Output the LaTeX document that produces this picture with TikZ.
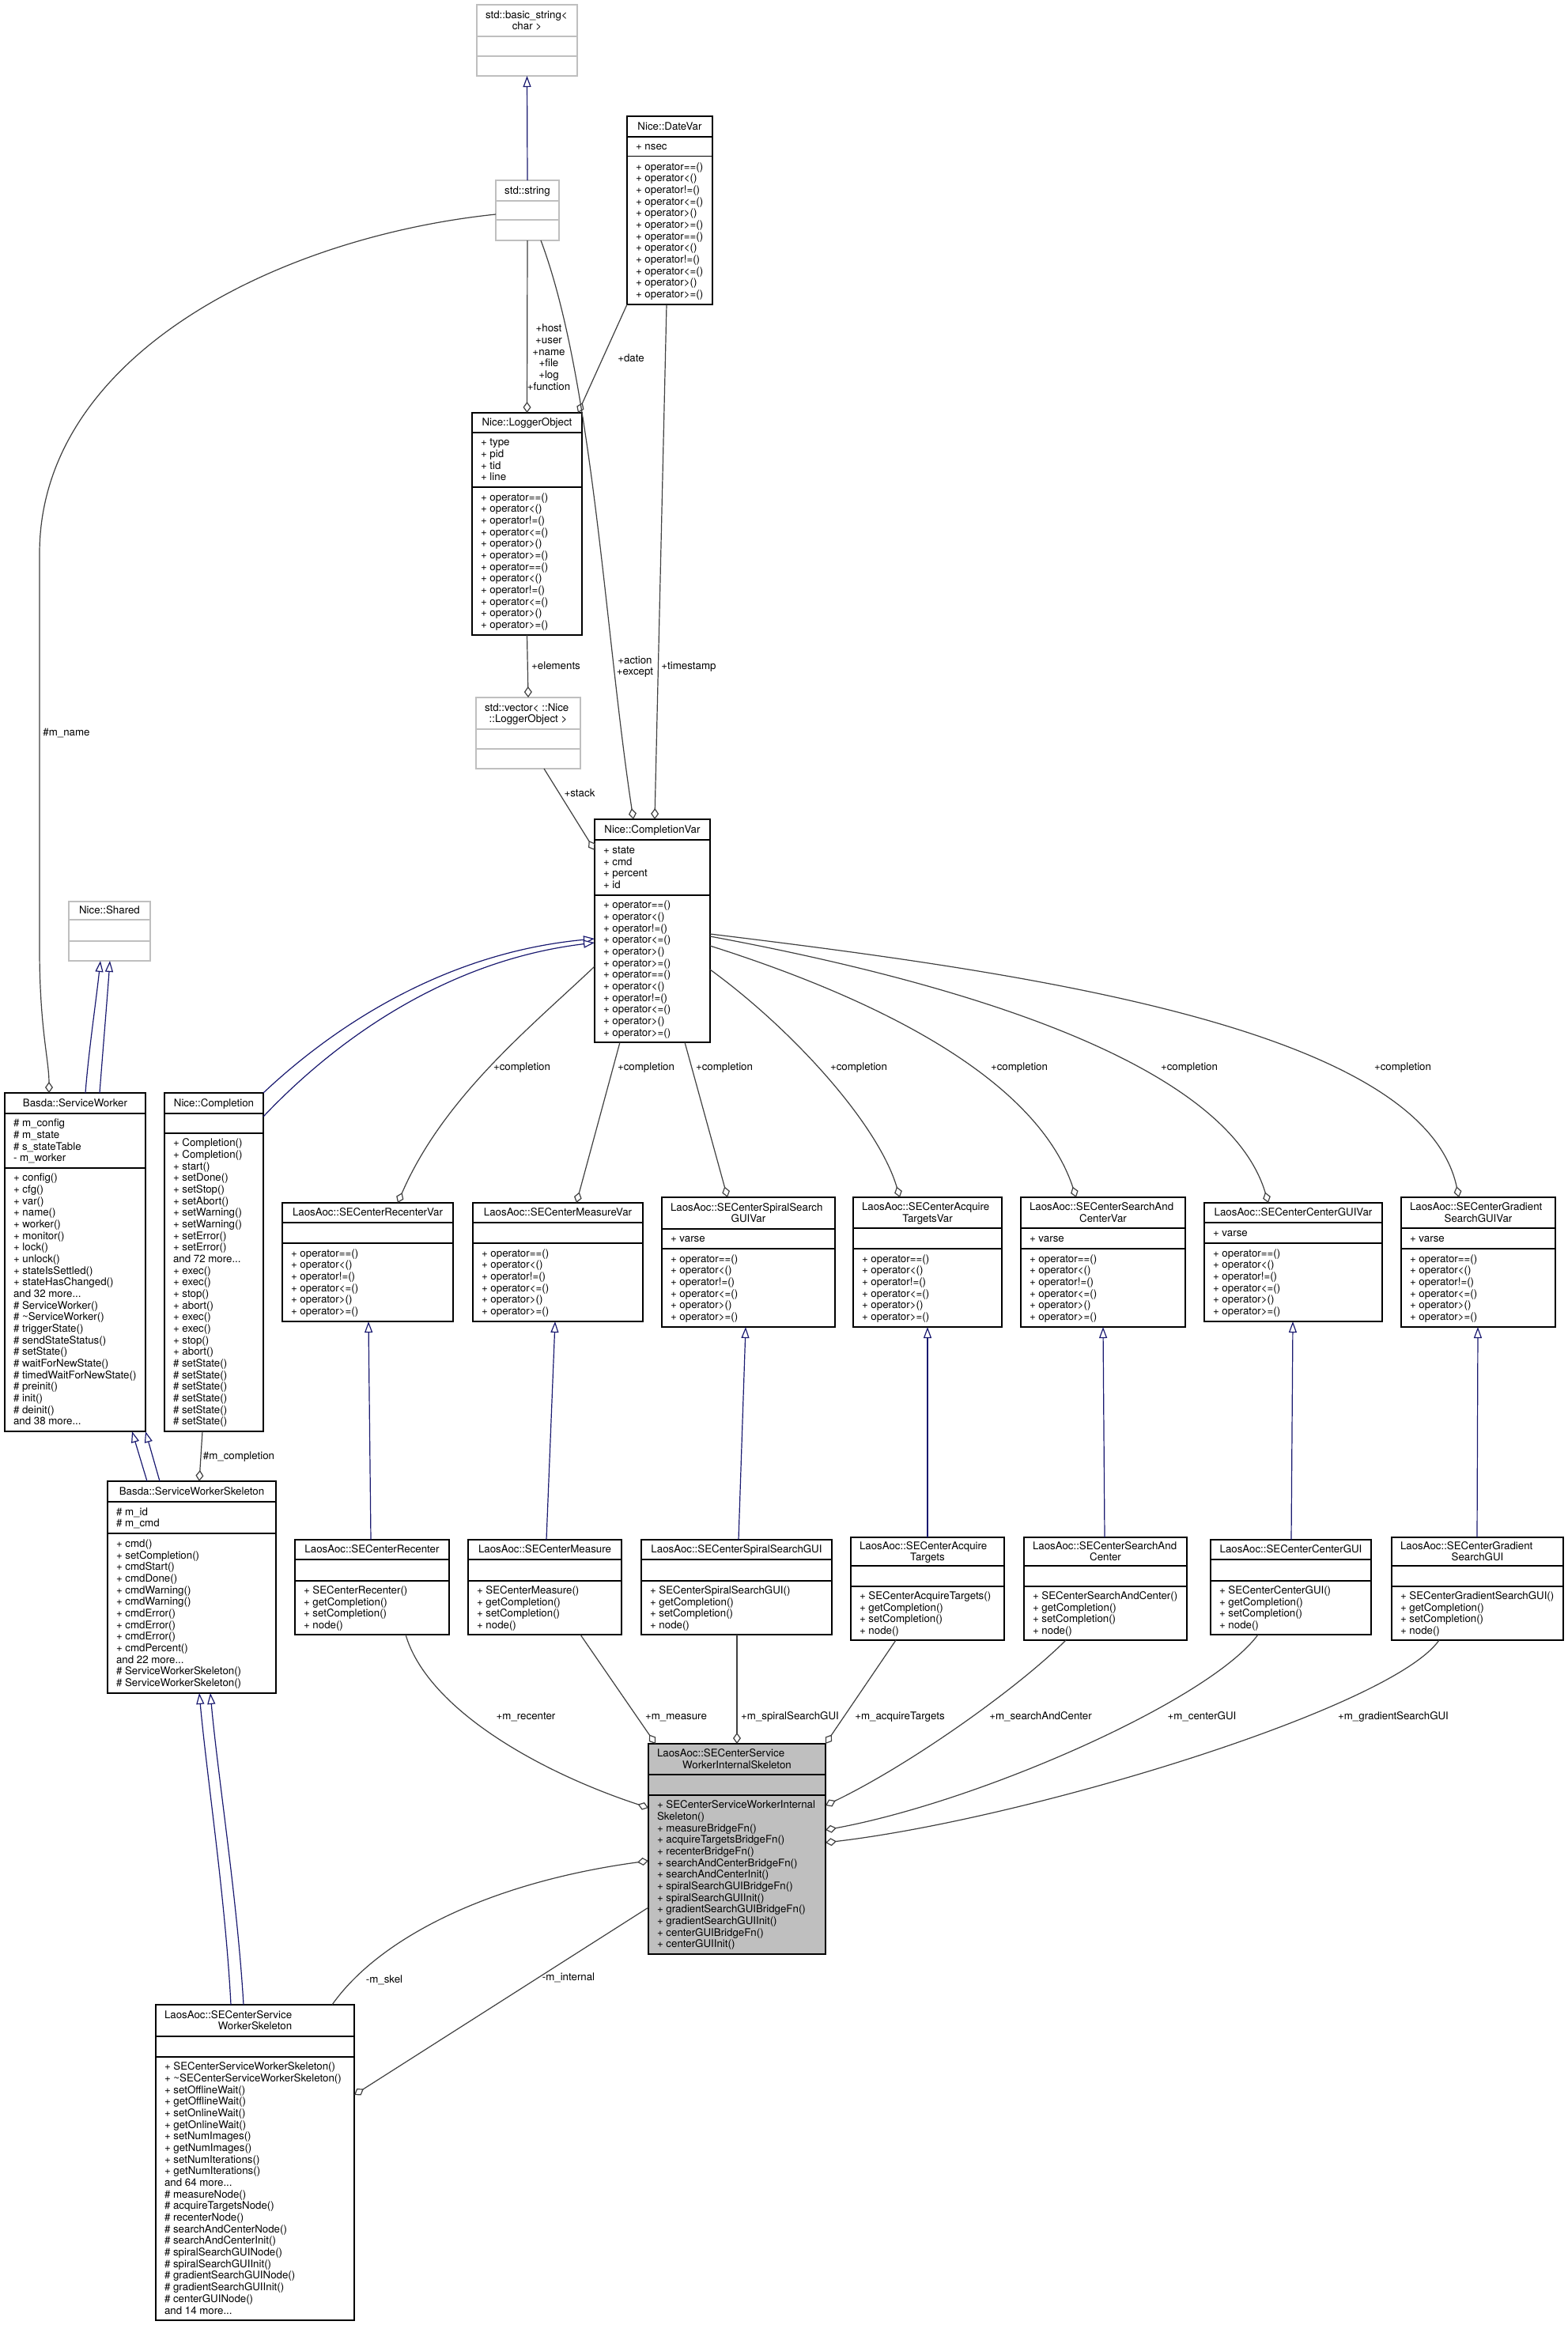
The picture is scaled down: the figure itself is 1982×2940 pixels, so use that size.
\documentclass[tikz,border=0pt]{standalone}
\usepackage{fontspec}
\setmainfont{TeX Gyre Heros}
\usetikzlibrary{arrows.meta}
\definecolor{mblue}{HTML}{191970}
\definecolor{gdark}{HTML}{404040}
\definecolor{glight}{HTML}{BFBFBF}
\newcommand\ml[1]{\strut#1\strut}
\tikzset{
  txt/.style={font=\fontsize{13.3}{14.67}\selectfont, inner sep=0pt, outer sep=0pt},
  bx/.style={draw=black, line width=1.5pt, inner sep=0pt, outer sep=0pt, anchor=north west},
  gbx/.style={bx, draw=glight},
  ibx/.style={bx, fill=glight},
  inh/.style={draw=mblue, line width=1.2pt, -{Triangle[length=14pt,width=10pt,fill=white]}},
  asc/.style={draw=gdark, line width=1.2pt, -{Diamond[length=14pt,width=10pt,fill=white]}},
  lbl/.style={txt, align=center},
}
% #1 name, #2 style, #3 x1, #4 y1, #5 x2, #6 y2, #7 divider1, #8 divider2, #9 divider colour
\newcommand\cls[9]{%
  \node[#2, minimum width={(#5-#3)*1pt}, minimum height={(#6-#4)*1pt}] (#1) at (#3,#4) {};
  \draw[line width=1.5pt, draw=#9] (#3,#7) -- (#5,#7) (#3,#8) -- (#5,#8);
  \def\bxa{#3}\def\bxb{#4}\def\bxc{#5}\def\bxd{#6}\def\bxe{#7}\def\bxf{#8}}
\newcommand\tone[2]{\node[txt] (#1) at ({(\bxa+\bxc)/2},{(\bxb+\bxe)/2+1.5}) {\strut #2};}
\newcommand\ttwo[3]{%
  \node[txt, anchor=west] (#1a) at ({\bxa+11},{(\bxb+\bxe)/2-7.33+1.5}) {\strut #2};
  \node[txt] (#1b) at ({(\bxa+\bxc)/2},{(\bxb+\bxe)/2+7.33+1.5}) {\strut #3};}
\newcommand\tatt[2]{\node[txt, anchor=west, align=left] (#1) at ({\bxa+11},{(\bxe+\bxf)/2+1.5}) {\ml{#2}};}
\newcommand\tmeth[2]{\node[txt, anchor=west, align=left] (#1) at ({\bxa+11},{(\bxf+\bxd)/2+1.5}) {\ml{#2}};}

\begin{document}
\begin{tikzpicture}[x=1pt,y=-1pt]
\useasboundingbox[fill=white] (0,0) rectangle (1982,2940);

% ---------------- classes ----------------
\cls{bstr}{gbx}{603}{6}{730}{96}{46}{71}{glight}
\ttwo{bstr-t}{std::basic\_string<}{char >}

\cls{str}{gbx}{627}{228}{707}{304}{254}{278}{glight}
\tone{str-t}{std::string}

\cls{dv}{bx}{793}{147}{901}{385}{173}{197.5}{black}
\tone{dv-t}{Nice::DateVar}
\tatt{dv-a}{+ nsec}
\tmeth{dv-m}{+ operator==()\\+ operator<()\\+ operator!=()\\+ operator<=()\\+ operator>()\\+ operator>=()\\+ operator==()\\+ operator<()\\+ operator!=()\\+ operator<=()\\+ operator>()\\+ operator>=()}

\cls{lo}{bx}{597}{522}{736}{803}{547}{616}{black}
\tone{lo-t}{Nice::LoggerObject}
\tatt{lo-a}{+ type\\+ pid\\+ tid\\+ line}
\tmeth{lo-m}{+ operator==()\\+ operator<()\\+ operator!=()\\+ operator<=()\\+ operator>()\\+ operator>=()\\+ operator==()\\+ operator<()\\+ operator!=()\\+ operator<=()\\+ operator>()\\+ operator>=()}

\cls{vec}{gbx}{602}{882}{734}{972}{922}{947}{glight}
\ttwo{vec-t}{std::vector< ::Nice}{::LoggerObject >}

\cls{cv}{bx}{752}{1036}{898}{1318}{1062}{1132}{black}
\tone{cv-t}{Nice::CompletionVar}
\tatt{cv-a}{+ state\\+ cmd\\+ percent\\+ id}
\tmeth{cv-m}{+ operator==()\\+ operator<()\\+ operator!=()\\+ operator<=()\\+ operator>()\\+ operator>=()\\+ operator==()\\+ operator<()\\+ operator!=()\\+ operator<=()\\+ operator>()\\+ operator>=()}

\cls{sh}{gbx}{87}{1140}{190}{1215}{1163}{1190}{glight}
\tone{sh-t}{Nice::Shared}

\cls{sw}{bx}{6}{1382}{184}{1810}{1408}{1477}{black}
\tone{sw-t}{Basda::ServiceWorker}
\tatt{sw-a}{\# m\_config\\\# m\_state\\\# s\_stateTable\\- m\_worker}
\tmeth{sw-m}{+ config()\\+ cfg()\\+ var()\\+ name()\\+ worker()\\+ monitor()\\+ lock()\\+ unlock()\\+ stateIsSettled()\\+ stateHasChanged()\\and 32 more...\\\# ServiceWorker()\\\# \textasciitilde ServiceWorker()\\\# triggerState()\\\# sendStateStatus()\\\# setState()\\\# waitForNewState()\\\# timedWaitForNewState()\\\# preinit()\\\# init()\\\# deinit()\\and 38 more...}

\cls{co}{bx}{208}{1382}{333}{1810}{1408}{1433}{black}
\tone{co-t}{Nice::Completion}
\tmeth{co-m}{+ Completion()\\+ Completion()\\+ start()\\+ setDone()\\+ setStop()\\+ setAbort()\\+ setWarning()\\+ setWarning()\\+ setError()\\+ setError()\\and 72 more...\\+ exec()\\+ exec()\\+ stop()\\+ abort()\\+ exec()\\+ exec()\\+ stop()\\+ abort()\\\# setState()\\\# setState()\\\# setState()\\\# setState()\\\# setState()\\\# setState()}

\cls{rv}{bx}{357}{1521}{573}{1671}{1546}{1572}{black}
\tone{rv-t}{LaosAoc::SECenterRecenterVar}
\tmeth{rv-m}{+ operator==()\\+ operator<()\\+ operator!=()\\+ operator<=()\\+ operator>()\\+ operator>=()}

\cls{mv}{bx}{598}{1521}{813}{1671}{1546}{1572}{black}
\tone{mv-t}{LaosAoc::SECenterMeasureVar}
\tmeth{mv-m}{+ operator==()\\+ operator<()\\+ operator!=()\\+ operator<=()\\+ operator>()\\+ operator>=()}

\cls{sv}{bx}{837}{1514}{1056}{1678}{1554}{1579}{black}
\ttwo{sv-t}{LaosAoc::SECenterSpiralSearch}{GUIVar}
\tatt{sv-a}{+ varse}
\tmeth{sv-m}{+ operator==()\\+ operator<()\\+ operator!=()\\+ operator<=()\\+ operator>()\\+ operator>=()}

\cls{av}{bx}{1079}{1514}{1267}{1678}{1553}{1579}{black}
\ttwo{av-t}{LaosAoc::SECenterAcquire}{TargetsVar}
\tmeth{av-m}{+ operator==()\\+ operator<()\\+ operator!=()\\+ operator<=()\\+ operator>()\\+ operator>=()}

\cls{scv}{bx}{1291}{1514}{1499}{1678}{1553}{1579}{black}
\ttwo{scv-t}{LaosAoc::SECenterSearchAnd}{CenterVar}
\tatt{scv-a}{+ varse}
\tmeth{scv-m}{+ operator==()\\+ operator<()\\+ operator!=()\\+ operator<=()\\+ operator>()\\+ operator>=()}

\cls{cgv}{bx}{1523}{1521}{1748}{1671}{1546}{1572}{black}
\tone{cgv-t}{LaosAoc::SECenterCenterGUIVar}
\tatt{cgv-a}{+ varse}
\tmeth{cgv-m}{+ operator==()\\+ operator<()\\+ operator!=()\\+ operator<=()\\+ operator>()\\+ operator>=()}

\cls{grv}{bx}{1772}{1514}{1967}{1678}{1553}{1579}{black}
\ttwo{grv-t}{LaosAoc::SECenterGradient}{SearchGUIVar}
\tatt{grv-a}{+ varse}
\tmeth{grv-m}{+ operator==()\\+ operator<()\\+ operator!=()\\+ operator<=()\\+ operator>()\\+ operator>=()}

\cls{sws}{bx}{136}{1873}{349}{2141}{1899}{1939}{black}
\tone{sws-t}{Basda::ServiceWorkerSkeleton}
\tatt{sws-a}{\# m\_id\\\# m\_cmd}
\tmeth{sws-m}{+ cmd()\\+ setCompletion()\\+ cmdStart()\\+ cmdDone()\\+ cmdWarning()\\+ cmdWarning()\\+ cmdError()\\+ cmdError()\\+ cmdError()\\+ cmdPercent()\\and 22 more...\\\# ServiceWorkerSkeleton()\\\# ServiceWorkerSkeleton()}

\cls{rc}{bx}{373}{1947}{568}{2067}{1972}{1999}{black}
\tone{rc-t}{LaosAoc::SECenterRecenter}
\tmeth{rc-m}{+ SECenterRecenter()\\+ getCompletion()\\+ setCompletion()\\+ node()}

\cls{ms}{bx}{592}{1947}{786}{2067}{1972}{1999}{black}
\tone{ms-t}{LaosAoc::SECenterMeasure}
\tmeth{ms-m}{+ SECenterMeasure()\\+ getCompletion()\\+ setCompletion()\\+ node()}

\cls{sp}{bx}{811}{1947}{1052}{2067}{1972}{1999}{black}
\tone{sp-t}{LaosAoc::SECenterSpiralSearchGUI}
\tmeth{sp-m}{+ SECenterSpiralSearchGUI()\\+ getCompletion()\\+ setCompletion()\\+ node()}

\cls{aq}{bx}{1076}{1944}{1270}{2074}{1980}{2006}{black}
\ttwo{aq-t}{LaosAoc::SECenterAcquire}{Targets}
\tmeth{aq-m}{+ SECenterAcquireTargets()\\+ getCompletion()\\+ setCompletion()\\+ node()}

\cls{sc}{bx}{1295}{1944}{1501}{2074}{1980}{2006}{black}
\ttwo{sc-t}{LaosAoc::SECenterSearchAnd}{Center}
\tmeth{sc-m}{+ SECenterSearchAndCenter()\\+ getCompletion()\\+ setCompletion()\\+ node()}

\cls{cg}{bx}{1531}{1947}{1734}{2067}{1972}{1999}{black}
\tone{cg-t}{LaosAoc::SECenterCenterGUI}
\tmeth{cg-m}{+ SECenterCenterGUI()\\+ getCompletion()\\+ setCompletion()\\+ node()}

\cls{gr}{bx}{1760}{1944}{1977}{2074}{1980}{2006}{black}
\ttwo{gr-t}{LaosAoc::SECenterGradient}{SearchGUI}
\tmeth{gr-m}{+ SECenterGradientSearchGUI()\\+ getCompletion()\\+ setCompletion()\\+ node()}

\cls{isk}{ibx}{820}{2205}{1044}{2471}{2244}{2270}{black}
\ttwo{isk-t}{LaosAoc::SECenterService}{WorkerInternalSkeleton}
\tmeth{isk-m}{+ SECenterServiceWorkerInternal\\Skeleton()\\+ measureBridgeFn()\\+ acquireTargetsBridgeFn()\\+ recenterBridgeFn()\\+ searchAndCenterBridgeFn()\\+ searchAndCenterInit()\\+ spiralSearchGUIBridgeFn()\\+ spiralSearchGUIInit()\\+ gradientSearchGUIBridgeFn()\\+ gradientSearchGUIInit()\\+ centerGUIBridgeFn()\\+ centerGUIInit()}

\cls{ssk}{bx}{197}{2535}{448}{2934}{2575}{2601}{black}
\ttwo{ssk-t}{LaosAoc::SECenterService}{WorkerSkeleton}
\tmeth{ssk-m}{+ SECenterServiceWorkerSkeleton()\\+ \textasciitilde SECenterServiceWorkerSkeleton()\\+ setOfflineWait()\\+ getOfflineWait()\\+ setOnlineWait()\\+ getOnlineWait()\\+ setNumImages()\\+ getNumImages()\\+ setNumIterations()\\+ getNumIterations()\\and 64 more...\\\# measureNode()\\\# acquireTargetsNode()\\\# recenterNode()\\\# searchAndCenterNode()\\\# searchAndCenterInit()\\\# spiralSearchGUINode()\\\# spiralSearchGUIInit()\\\# gradientSearchGUINode()\\\# gradientSearchGUIInit()\\\# centerGUINode()\\and 14 more...}

% ---------------- inheritance ----------------
\draw[inh] (str.north) -- (bstr.south);
\draw[inh] (sw.north -| 108,0) .. controls (112,1330) and (121,1270) .. (sh.south -| 127,0);
\draw[inh] (sw.north -| 126,0) .. controls (130,1330) and (135,1270) .. (sh.south -| 139,0);
\draw[inh] (co.north east) .. controls (420,1300) and (560,1205) .. (cv.west |- 0,1187);
\draw[inh] (co.east |- 0,1412) .. controls (420,1320) and (560,1215) .. (cv.west |- 0,1192);
\draw[inh] (sws.north -| 186,0) -- (sw.south -| 167,0);
\draw[inh] (sws.north -| 202,0) -- (sw.south -| 184,0);
\draw[inh] (ssk.north -| 292,0) .. controls (285,2400) and (262,2250) .. (sws.south -| 252,0);
\draw[inh] (ssk.north -| 308,0) .. controls (300,2400) and (276,2250) .. (sws.south -| 266,0);
\draw[inh] (rc.north -| 469,0) -- (rv.south -| 466,0);
\draw[inh] (ms.north -| 691,0) -- (mv.south -| 702,0);
\draw[inh] (sp.north -| 934,0) -- (sv.south -| 943,0);
\draw[inh] (aq.north -| 1173,0) -- (av.south -| 1173,0);
\draw[inh] (sc.north -| 1397,0) -- (scv.south -| 1395,0);
\draw[inh] (cg.north -| 1633,0) -- (cgv.south -| 1635,0);
\draw[inh] (gr.north -| 1868,0) -- (grv.south -| 1869,0);

% ---------------- associations ----------------
\draw[asc] (str.south) -- (lo.north);
\draw[asc] (dv.south west) -- (lo.north -| 731,0);
\draw[asc] (lo.south) -- (vec.north);
\draw[asc] (vec.south -| 688,0) -- (cv.west |- 0,1075);
\draw[asc] (str.south -| 684,0) .. controls (750,480) and (765,800) .. (cv.north -| 801,0);
\draw[asc] (dv.south -| 843,0) -- (cv.north -| 828,0);
\draw[asc] (str.west |- 0,271) .. controls (350,300) and (50,450) .. (50,700) -- (50,1200) .. controls (50,1300) and (62,1340) .. (sw.north -| 62,0);
\draw[asc] (co.south -| 256,0) -- (sws.north -| 252,0);

\draw[asc] (cv.west |- 0,1222) .. controls (672,1298) and (561,1387) .. (rv.north -| 503,0);
\draw[asc] (cv.south -| 784,0) -- (mv.north -| 729,0);
\draw[asc] (cv.south -| 866,0) -- (sv.north -| 920,0);
\draw[asc] (cv.east |- 0,1226) .. controls (1000,1300) and (1110,1420) .. (av.north -| 1138,0);
\draw[asc] (cv.east |- 0,1196) .. controls (1100,1260) and (1310,1360) .. (scv.north -| 1361,0);
\draw[asc] (cv.east |- 0,1184) .. controls (1200,1240) and (1550,1340) .. (cgv.north -| 1604,0);
\draw[asc] (cv.east |- 0,1181) .. controls (1300,1230) and (1800,1300) .. (grv.north -| 1845,0);

\draw[asc] (rc.south -| 513,0) .. controls (540,2160) and (680,2240) .. (isk.west |- 0,2286);
\draw[asc] (ms.south -| 734,0) -- (isk.north -| 829,0);
\draw[asc] (sp.south -| 932,0) -- (isk.north -| 932,0);
\draw[asc] (aq.south -| 1133,0) -- (isk.north east);
\draw[asc] (sc.south -| 1348,0) .. controls (1288,2134) and (1152,2231) .. (isk.east |- 0,2283);
\draw[asc] (cg.south -| 1591,0) .. controls (1530,2150) and (1240,2278) .. (isk.east |- 0,2314);
\draw[asc] (gr.south -| 1820,0) .. controls (1760,2160) and (1300,2300) .. (isk.east |- 0,2330);
\draw[asc] (ssk.north -| 420,0) .. controls (480,2450) and (620,2380) .. (isk.west |- 0,2353);
\draw[asc] (isk.west |- 0,2412) -- (ssk.east |- 0,2649);

% ---------------- labels ----------------
\node[lbl] (l-host) at (694,453.5) {\ml{+host\\+user\\+name\\+file\\+log\\+function}};
\node[lbl] (l-date) at (798,454.5) {\strut +date};
\node[lbl] (l-elem) at (703,843.5) {\strut +elements};
\node[lbl] (l-act) at (803,843.5) {\ml{+action\\+except}};
\node[lbl] (l-ts) at (871,843.5) {\strut +timestamp};
\node[lbl] (l-stack) at (733,1004.5) {\strut +stack};
\node[lbl] (l-mname) at (84,927.5) {\strut \#m\_name};
\node[lbl] (l-mcomp) at (302,1842.5) {\strut \#m\_completion};
\node[lbl] (l-c1) at (660,1350.5) {\strut +completion};
\node[lbl] (l-c2) at (817,1350.5) {\strut +completion};
\node[lbl] (l-c3) at (916,1350.5) {\strut +completion};
\node[lbl] (l-c4) at (1086,1350.5) {\strut +completion};
\node[lbl] (l-c5) at (1289,1350.5) {\strut +completion};
\node[lbl] (l-c6) at (1504,1350.5) {\strut +completion};
\node[lbl] (l-c7) at (1774,1350.5) {\strut +completion};
\node[lbl] (l-rec) at (665,2171.5) {\strut +m\_recenter};
\node[lbl] (l-mea) at (855,2171.5) {\strut +m\_measure};
\node[lbl] (l-spi) at (999,2171.5) {\strut +m\_spiralSearchGUI};
\node[lbl] (l-acq) at (1138,2171.5) {\strut +m\_acquireTargets};
\node[lbl] (l-sac) at (1316,2171.5) {\strut +m\_searchAndCenter};
\node[lbl] (l-cgu) at (1520,2171.5) {\strut +m\_centerGUI};
\node[lbl] (l-gra) at (1762,2171.5) {\strut +m\_gradientSearchGUI};
\node[lbl] (l-skel) at (486,2504.5) {\strut -m\_skel};
\node[lbl] (l-int) at (719,2501.5) {\strut -m\_internal};
\end{tikzpicture}
\end{document}
